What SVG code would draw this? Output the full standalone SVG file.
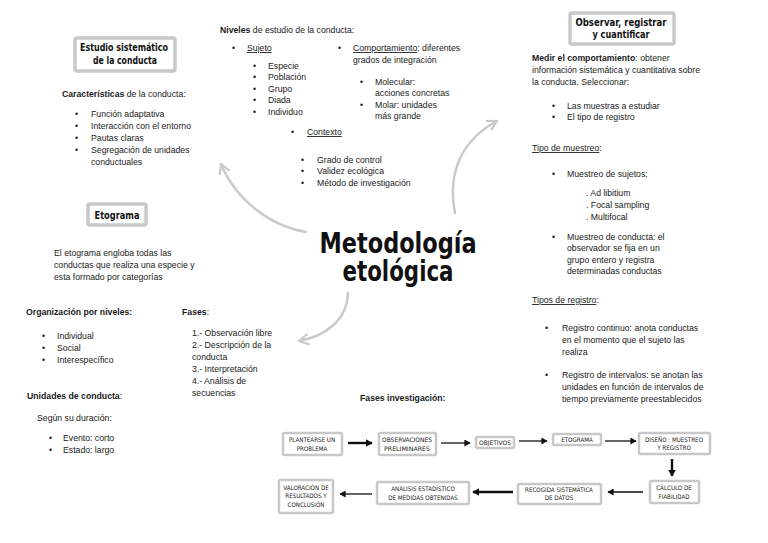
<svg xmlns="http://www.w3.org/2000/svg" width="768" height="543" viewBox="0 0 768 543">
<style>
.t{font-family:"Liberation Sans",Arial,sans-serif;font-size:8.7px;fill:#1a1a1a}
.b{font-weight:bold}
.u{text-decoration:underline}
.hd{font-family:"DejaVu Sans Condensed","DejaVu Sans",sans-serif;font-weight:bold;font-size:10px;fill:#111;text-anchor:middle}
.tb{fill:#fff;stroke:#c8c8c8;stroke-width:3.5}
.fb{fill:#fff;stroke:#c8c8c8;stroke-width:2.5}
.ft{font-family:"DejaVu Sans Condensed","DejaVu Sans",sans-serif;font-size:6.2px;fill:#222;text-anchor:middle}
.ga{fill:none;stroke:#cacaca;stroke-width:2.5;stroke-linecap:round}
.fa{fill:none;stroke:#111;stroke-width:1.3}
.fat{fill:none;stroke:#111;stroke-width:2.4}
.ct{font-family:"DejaVu Sans Condensed","DejaVu Sans",sans-serif;font-weight:bold;font-size:28px;fill:#111;text-anchor:middle}
</style>
<defs>
<marker id="gh" viewBox="0 0 12 12" refX="10" refY="6" markerWidth="12" markerHeight="12" markerUnits="userSpaceOnUse" orient="auto">
<path d="M1,1 L10,6 L1,11" fill="none" stroke="#cacaca" stroke-width="2.2" stroke-linecap="round" stroke-linejoin="round"/>
</marker>
<marker id="bh" viewBox="0 0 10 10" refX="8" refY="5" markerWidth="7" markerHeight="7" markerUnits="userSpaceOnUse" orient="auto">
<path d="M0,0 L9,5 L0,10 Z" fill="#111"/>
</marker>
<marker id="bh2" viewBox="0 0 10 10" refX="8" refY="5" markerWidth="8" markerHeight="8" markerUnits="userSpaceOnUse" orient="auto">
<path d="M0,0 L9,5 L0,10 Z" fill="#111"/>
</marker>
</defs>
<rect width="768" height="543" fill="#fff"/>

<g id="center">
<text class="ct" x="398" y="253" textLength="157" lengthAdjust="spacingAndGlyphs">Metodología</text>
<text class="ct" x="398" y="281" textLength="111" lengthAdjust="spacingAndGlyphs">etológica</text>
</g>

<g id="connectors">
<path class="ga" d="M306,232 C270,226 236,200 221,164" marker-end="url(#gh)"/>
<path class="ga" d="M455,213 C447,172 462,140 497,121" marker-end="url(#gh)"/>
<path class="ga" d="M348,293 C347,320 326,336 299,341" marker-end="url(#gh)"/>
<line class="fat" x1="348" y1="443" x2="372" y2="443" marker-end="url(#bh2)"/>
<line class="fa" x1="441" y1="443" x2="470" y2="443" marker-end="url(#bh)"/>
<line class="fa" x1="519" y1="441" x2="547" y2="441" marker-end="url(#bh)"/>
<line class="fa" x1="605" y1="441" x2="636" y2="441" marker-end="url(#bh)"/>
<line class="fat" x1="672" y1="459" x2="672" y2="476" marker-end="url(#bh2)"/>
<line class="fa" x1="643" y1="492" x2="608" y2="492" marker-end="url(#bh)"/>
<line class="fat" x1="513" y1="492" x2="473" y2="492" marker-end="url(#bh2)"/>
<line class="fa" x1="372" y1="494" x2="340" y2="494" marker-end="url(#bh)"/>
</g>

<g id="estudio">
<rect class="tb" x="75" y="38" width="100" height="33" rx="2"/>
<text class="hd" x="124" y="51" textLength="88" lengthAdjust="spacingAndGlyphs">Estudio sistemático</text>
<text class="hd" x="125" y="64" textLength="64" lengthAdjust="spacingAndGlyphs">de la conducta</text>
<text class="t" x="62" y="97"><tspan class="b">Características</tspan> de la conducta:</text>
<text class="t" x="75" y="117">•</text><text class="t" x="91" y="117">Función adaptativa</text>
<text class="t" x="75" y="129">•</text><text class="t" x="91" y="129">Interacción con el entorno</text>
<text class="t" x="75" y="141">•</text><text class="t" x="91" y="141">Pautas claras</text>
<text class="t" x="75" y="153">•</text><text class="t" x="91" y="153">Segregación de unidades</text>
<text class="t" x="91" y="165">conductuales</text>
</g>

<g id="niveles">
<text class="t" x="220" y="33"><tspan class="b">Niveles</tspan> de estudio de la conducta:</text>
<text class="t" x="232" y="51">•</text><text class="t" x="247" y="51"><tspan class="u">Sujeto</tspan></text>
<text class="t" x="253" y="69">•</text><text class="t" x="268" y="69">Especie</text>
<text class="t" x="253" y="80">•</text><text class="t" x="268" y="80">Población</text>
<text class="t" x="253" y="92">•</text><text class="t" x="268" y="92">Grupo</text>
<text class="t" x="253" y="103">•</text><text class="t" x="268" y="103">Diada</text>
<text class="t" x="253" y="115">•</text><text class="t" x="268" y="115">Individuo</text>
<text class="t" x="338" y="51">•</text><text class="t" x="353" y="51"><tspan class="u">Comportamiento</tspan>: diferentes</text>
<text class="t" x="353" y="63">grados de integración</text>
<text class="t" x="360" y="85">•</text><text class="t" x="375" y="85">Molecular:</text>
<text class="t" x="375" y="96">acciones concretas</text>
<text class="t" x="360" y="108">•</text><text class="t" x="375" y="108">Molar: unidades</text>
<text class="t" x="375" y="119">más grande</text>
<text class="t" x="291" y="135">•</text><text class="t" x="307" y="135"><tspan class="u">Contexto</tspan></text>
<text class="t" x="301" y="163">•</text><text class="t" x="317" y="163">Grado de control</text>
<text class="t" x="301" y="174">•</text><text class="t" x="317" y="174">Validez ecológica</text>
<text class="t" x="301" y="186">•</text><text class="t" x="317" y="186">Método de investigación</text>
</g>

<g id="observar">
<rect class="tb" x="570" y="13" width="104" height="31" rx="2"/>
<text class="hd" x="621" y="26" textLength="91" lengthAdjust="spacingAndGlyphs">Observar, registrar</text>
<text class="hd" x="621" y="38" textLength="57" lengthAdjust="spacingAndGlyphs">y cuantificar</text>
<text class="t" x="532" y="61"><tspan class="b">Medir el comportamiento</tspan>: obtener</text>
<text class="t" x="532" y="73">información sistemática y cuantitativa sobre</text>
<text class="t" x="532" y="85">la conducta. Seleccionar:</text>
<text class="t" x="552" y="109">•</text><text class="t" x="567" y="109">Las muestras a estudiar</text>
<text class="t" x="552" y="120">•</text><text class="t" x="567" y="120">El tipo de registro</text>
<text class="t" x="532" y="151"><tspan class="u">Tipo de muestreo</tspan>:</text>
<text class="t" x="552" y="177">•</text><text class="t" x="567" y="177">Muestreo de sujetos:</text>
<text class="t" x="586" y="196">. Ad libitium</text>
<text class="t" x="586" y="208">. Focal sampling</text>
<text class="t" x="586" y="220">. Multifocal</text>
<text class="t" x="552" y="240">•</text><text class="t" x="567" y="240">Muestreo de conducta: el</text>
<text class="t" x="567" y="251">observador se fija en un</text>
<text class="t" x="567" y="263">grupo entero y registra</text>
<text class="t" x="567" y="274">determinadas conductas</text>
<text class="t" x="532" y="303"><tspan class="u">Tipos de registro</tspan>:</text>
<text class="t" x="545" y="331">•</text><text class="t" x="562" y="331">Registro continuo: anota conductas</text>
<text class="t" x="562" y="343">en el momento que el sujeto las</text>
<text class="t" x="562" y="355">realiza</text>
<text class="t" x="545" y="378">•</text><text class="t" x="562" y="378">Registro de intervalos: se anotan las</text>
<text class="t" x="562" y="390">unidades en función de intervalos de</text>
<text class="t" x="562" y="402">tiempo previamente preestablecidos</text>
</g>

<g id="etograma">
<rect class="tb" x="88" y="204" width="58" height="21" rx="2"/>
<text class="hd" x="117" y="219" textLength="45" lengthAdjust="spacingAndGlyphs">Etograma</text>
<text class="t" x="54" y="256">El etograma engloba todas las</text>
<text class="t" x="54" y="268">conductas que realiza una especie y</text>
<text class="t" x="54" y="280">esta formado por categorías</text>
<text class="t b" x="26" y="315">Organización por niveles:</text>
<text class="t" x="42" y="339">•</text><text class="t" x="57" y="339">Individual</text>
<text class="t" x="42" y="351">•</text><text class="t" x="57" y="351">Social</text>
<text class="t" x="42" y="363">•</text><text class="t" x="57" y="363">Interespecífico</text>
<text class="t" x="27" y="399"><tspan class="b">Unidades de conducta</tspan>:</text>
<text class="t" x="37" y="421">Según su duración:</text>
<text class="t" x="49" y="441">•</text><text class="t" x="63" y="441">Evento: corto</text>
<text class="t" x="49" y="453">•</text><text class="t" x="63" y="453">Estado: largo</text>
<text class="t" x="182" y="315"><tspan class="b">Fases</tspan>:</text>
<text class="t" x="192" y="336">1.- Observación libre</text>
<text class="t" x="192" y="348">2.- Descripción de la</text>
<text class="t" x="192" y="360">conducta</text>
<text class="t" x="192" y="372">3.- Interpretación</text>
<text class="t" x="192" y="384">4.- Análisis de</text>
<text class="t" x="192" y="396">secuencias</text>
</g>

<g id="fases-investigacion">
<text class="t b" x="360" y="401">Fases investigación:</text>
</g>
<g id="f1"><rect class="fb" x="283" y="433" width="59" height="22" rx="1.5"/>
<text class="ft" x="312" y="442">PLANTEARSE UN</text><text class="ft" x="312" y="451">PROBLEMA</text></g>
<g id="f2"><rect class="fb" x="379" y="433" width="57" height="22" rx="1.5"/>
<text class="ft" x="407" y="442" textLength="50" lengthAdjust="spacingAndGlyphs">OBSERVACIONES</text><text class="ft" x="407" y="451" textLength="46" lengthAdjust="spacingAndGlyphs">PRELIMINARES</text></g>
<g id="f3"><rect class="fb" x="476" y="437" width="38" height="11" rx="1.5"/>
<text class="ft" x="495" y="445" textLength="32" lengthAdjust="spacingAndGlyphs">OBJETIVOS</text></g>
<g id="f4"><rect class="fb" x="553" y="434" width="48" height="11" rx="1.5"/>
<text class="ft" x="577" y="442">ETOGRAMA</text></g>
<g id="f5"><rect class="fb" x="639" y="433" width="71" height="21" rx="1.5"/>
<text class="ft" x="674" y="442">DISEÑO : MUESTREO</text><text class="ft" x="674" y="450">Y REGISTRO</text></g>
<g id="f6"><rect class="fb" x="650" y="481" width="49" height="22" rx="1.5"/>
<text class="ft" x="674" y="490">CÁLCULO DE</text><text class="ft" x="674" y="499">FIABILIDAD</text></g>
<g id="f7"><rect class="fb" x="518" y="484" width="83" height="20" rx="1.5"/>
<text class="ft" x="559" y="492">RECOGIDA SISTEMÁTICA</text><text class="ft" x="559" y="500">DE DATOS</text></g>
<g id="f8"><rect class="fb" x="377" y="482" width="92" height="22" rx="1.5"/>
<text class="ft" x="423" y="491">ANÁLISIS ESTADÍSTICO</text><text class="ft" x="423" y="500">DE MEDIDAS OBTENIDAS</text></g>
<g id="f9"><rect class="fb" x="279" y="480" width="54" height="33" rx="1.5"/>
<text class="ft" x="306" y="490">VALORACIÓN DE</text><text class="ft" x="306" y="498">RESULTADOS Y</text><text class="ft" x="306" y="507">CONCLUSIÓN</text></g>
</svg>
